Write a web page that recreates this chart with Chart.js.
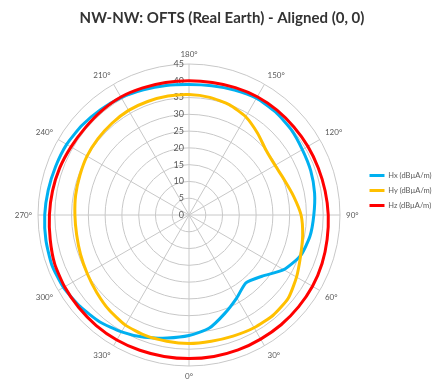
<!DOCTYPE html>
<html>
<head>
<meta charset="utf-8">
<script src="https://cdn.jsdelivr.net/npm/chart.js@4.4.1/dist/chart.umd.min.js"></script>
<style>
  html, body { margin: 0; padding: 0; background: #ffffff; }
  #wrap { width: 432px; height: 381px; }
</style>
</head>
<body>
<div id="wrap"><canvas id="polar" width="432" height="381"></canvas></div>
<script>
// Measurement bearings (degrees) and field levels in dBµA/m
const angles = [0, 10, 20, 30, 40, 50, 60, 70, 80, 90, 100, 110, 120, 130, 140, 150, 160, 170,
                180, 190, 200, 210, 220, 230, 240, 250, 260, 270, 280, 290, 300, 310, 320, 330, 340, 350];
const hx = [35.9, 34.3, 31.2, 28.5, 26.4, 28.4, 32.6, 35.4, 36.6, 37.2, 38.0, 38.6, 39.0, 39.7, 40.1, 40.2, 39.6, 39.1,
            38.9, 39.2, 39.7, 40.4, 41.0, 41.6, 42.1, 42.3, 42.6, 43.0, 43.3, 43.5, 43.2, 42.4, 41.5, 40.2, 38.8, 37.2];
const hy = [38.3, 38.2, 38.4, 38.8, 39.0, 38.6, 37.0, 35.4, 34.4, 33.4, 31.7, 30.3, 29.6, 30.0, 31.8, 33.8, 35.0, 35.6,
            35.9, 36.0, 36.0, 36.0, 35.7, 35.4, 35.1, 34.6, 34.3, 34.0, 34.0, 34.4, 35.0, 35.9, 37.0, 37.9, 38.2, 38.2];
const hz = [42.8, 42.8, 42.8, 42.7, 42.7, 42.6, 42.5, 42.2, 41.8, 41.5, 41.2, 41.0, 40.9, 40.8, 40.8, 40.7, 40.4, 40.1,
            40.0, 40.1, 40.3, 40.6, 40.5, 40.4, 40.6, 41.0, 41.3, 41.6, 42.0, 42.6, 42.8, 42.9, 43.0, 43.0, 42.9, 42.8];
const radialTicks = [0, 5, 10, 15, 20, 25, 30, 35, 40, 45];
const seriesNames = ['Hx (dBµA/m)', 'Hy (dBµA/m)', 'Hz (dBµA/m)'];
const seriesColors = ['#00B0F0', '#FFC000', '#FF0000'];

const FONT = "Lato, 'Open Sans', 'DejaVu Sans', sans-serif";
const GRID = '#c8c8c8';
const TEXT = '#595959';

// The radar runs clockwise from the top spoke, which carries 180°.
const clockwiseKey = a => (180 - a + 360) % 360;
const spokes = [...angles].sort((a, b) => clockwiseKey(a) - clockwiseKey(b));
const onSpokes = values => spokes.map(a => values[angles.indexOf(a)]);

// Radial value labels sit just left of the vertical spoke, under the traces.
const radialTickLabels = {
  id: 'radialTickLabels',
  beforeDatasetsDraw(chart) {
    const r = chart.scales.r;
    const ctx = chart.ctx;
    ctx.save();
    ctx.font = '9px ' + FONT;
    ctx.fillStyle = TEXT;
    ctx.textAlign = 'right';
    ctx.textBaseline = 'middle';
    r.ticks.forEach(t => {
      ctx.fillText(String(t.value), r.xCenter - 5, r.yCenter - r.getDistanceFromCenterForValue(t.value));
    });
    ctx.restore();
  }
};

const series = [hx, hy, hz];
new Chart(document.getElementById('polar'), {
  type: 'radar',
  plugins: [radialTickLabels],
  data: {
    labels: spokes,
    datasets: series.map((values, i) => ({
      label: seriesNames[i],
      data: onSpokes(values),
      borderColor: seriesColors[i],
      backgroundColor: seriesColors[i],
      borderWidth: 3,
      pointRadius: 0,
      fill: false,
      tension: 0.2,
      order: series.length - i
    }))
  },
  options: {
    responsive: false,
    animation: false,
    devicePixelRatio: 1,
    layout: { padding: { left: 12, right: 0, top: 0, bottom: 0 } },
    plugins: {
      title: {
        display: true,
        text: 'NW-NW: OFTS (Real Earth) - Aligned (0, 0)',
        color: '#333333',
        font: { family: FONT, size: 15, weight: 'bold' },
        padding: { top: 9, bottom: 23 }
      },
      legend: {
        position: 'right',
        maxWidth: 70,
        labels: {
          usePointStyle: true,
          pointStyle: 'line',
          pointStyleWidth: 15,
          color: TEXT,
          font: { family: FONT, size: 7.5 },
          padding: 7.5,
          sort: (a, b) => a.datasetIndex - b.datasetIndex
        }
      },
      tooltip: { enabled: false }
    },
    scales: {
      r: {
        min: radialTicks[0],
        max: radialTicks[radialTicks.length - 1],
        startAngle: 0,
        ticks: { stepSize: radialTicks[1] - radialTicks[0], display: false },
        grid: { circular: true, color: GRID, lineWidth: 1 },
        angleLines: { color: GRID, lineWidth: c => (c.label ? 1 : 0) },
        pointLabels: {
          callback: a => (a % 30 === 0 ? a + '°' : ''),
          color: TEXT,
          font: { family: FONT, size: 8, lineHeight: 1 },
          padding: 6
        }
      }
    }
  }
});
</script>
</body>
</html>
